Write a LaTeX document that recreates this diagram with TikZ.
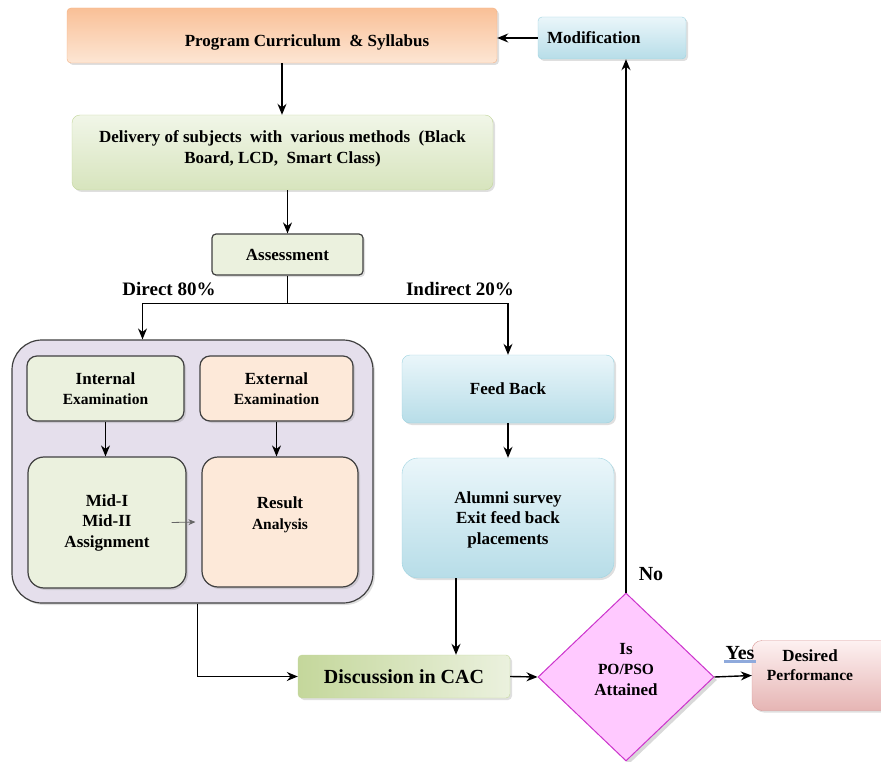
\documentclass[tikz,border=0pt]{standalone}
\usepackage{fontspec}
\setmainfont{Liberation Serif}
\usepackage{tikz}
\usetikzlibrary{arrows.meta,shapes.geometric,shadows}

\definecolor{progtop}{HTML}{F9C097}
\definecolor{progbot}{HTML}{FDE6D4}
\definecolor{progline}{HTML}{F4B183}
\definecolor{deltop}{HTML}{F1F6E8}
\definecolor{delbot}{HTML}{D7E4BD}
\definecolor{delline}{HTML}{C3D69B}
\definecolor{cacleft}{HTML}{C4D79B}
\definecolor{cacright}{HTML}{EBF1DE}
\definecolor{bluetop}{HTML}{EAF6FA}
\definecolor{bluebot}{HTML}{B7DDE8}
\definecolor{blueline}{HTML}{9DD3E0}
\definecolor{greenfill}{HTML}{EBF1DE}
\definecolor{peachfill}{HTML}{FDE9D9}
\definecolor{lavender}{HTML}{E5DFEC}
\definecolor{pinkfill}{HTML}{FFC9FF}
\definecolor{pinkline}{HTML}{CC33CC}
\definecolor{redtop}{HTML}{FDF1F1}
\definecolor{redbot}{HTML}{E6B5B4}
\definecolor{redline}{HTML}{D99694}
\definecolor{darkline}{HTML}{404040}
\definecolor{markblue}{HTML}{8FAADC}

\tikzset{
  box/.style={rectangle, rounded corners=4pt, inner sep=2pt, align=center,
    font=\fontsize{17}{20.5}\selectfont\bfseries,
    drop shadow={opacity=0.25, shadow xshift=2pt, shadow yshift=-2pt}},
  darkbox/.style={box, draw=darkline, line width=1.2pt, drop shadow={opacity=0}},
  arr/.style={-{Stealth[length=11pt,width=9pt]}, line width=1.4pt},
  lbl/.style={font=\fontsize{19}{22}\selectfont\bfseries}
}

\begin{document}
\begin{tikzpicture}[x=1pt,y=-1pt]
    \useasboundingbox (0,0) rectangle (881,762);

    % top boxes
    \node[box, draw=progline, top color=progtop, bottom color=progbot,
      minimum width=430pt, minimum height=55pt, text height=26pt, text depth=4pt] (prog) at (282,35.5)
      {\hspace*{50pt}Program Curriculum \ \& Syllabus};
    \node[box, draw=blueline, top color=bluetop, bottom color=bluebot,
      minimum height=42pt, text width=130pt, inner xsep=9pt, align=left] (modif) at (612,38)
      {Modification};
    \node[box, rounded corners=8pt, draw=delline, top color=deltop, bottom color=delbot,
      minimum width=421pt, minimum height=75pt] (deliv) at (282.5,152.5)
      {Delivery of subjects \ with \ various methods \ (Black\\Board, LCD, \ Smart Class)\\[-9.5pt]};
    \node[darkbox, fill=greenfill, minimum width=151pt, minimum height=41pt] (assess) at (287.5,254.5)
      {Assessment};

    % direct assessment
    \node[darkbox, rounded corners=30pt, fill=lavender, minimum width=361pt, minimum height=263pt]
      (direct) at (192.5,471.5) {};
    \node[darkbox, rounded corners=10pt, fill=greenfill, minimum width=157pt, minimum height=65pt]
      (internal) at (105.5,388.5) {Internal\\{\fontsize{15.5}{18}\selectfont Examination}};
    \node[darkbox, rounded corners=10pt, fill=peachfill, minimum width=153pt, minimum height=65pt]
      (external) at (276.5,388.5) {External\\{\fontsize{15.5}{18}\selectfont Examination}};
    \node[darkbox, rounded corners=16pt, fill=greenfill, minimum width=158pt, minimum height=131pt]
      (mid) at (107,522.5) {Mid-I\\Mid-II\\Assignment};
    \node[darkbox, rounded corners=16pt, fill=peachfill, minimum width=156pt, minimum height=130pt]
      (result) at (280,522) {Result\\{\fontsize{15.5}{18}\selectfont Analysis}\\[-2.5pt]};

    % indirect assessment
    \node[box, rounded corners=8pt, draw=blueline, top color=bluetop, bottom color=bluebot,
      minimum width=212pt, minimum height=68pt] (feedback) at (508,389) {Feed Back};
    \node[box, rounded corners=16pt, draw=blueline, top color=bluetop, bottom color=bluebot,
      minimum width=212pt, minimum height=120pt, text depth=0pt] (alumni) at (508,518)
      {Alumni survey\\Exit feed back\\placements};

    % bottom row
    \node[box, draw=delline, left color=cacleft, right color=cacright,
      minimum width=212pt, minimum height=43pt, font=\fontsize{20}{24}\selectfont\bfseries]
      (cac) at (404,676.5) {Discussion in CAC};
    \node[diamond, draw=pinkline, line width=1pt, fill=pinkfill, minimum width=176pt,
      minimum height=168pt, inner sep=0pt, align=center, font=\fontsize{17}{20.5}\selectfont\bfseries,
      drop shadow={opacity=0.3, shadow xshift=3pt, shadow yshift=-3pt}]
      (check) at (626,677) {Is\\{\fontsize{15.5}{18}\selectfont PO/PSO}\\Attained\\[-4.5pt]};
    \node[box, rounded corners=10pt, draw=redline, top color=redtop, bottom color=redbot,
      minimum width=140pt, minimum height=70pt] (desired) at (822,675.5) {};
    \node[inner sep=0pt, align=center, font=\fontsize{17}{19}\selectfont\bfseries]
      (desiredtext) at (810,665) {Desired\\{\fontsize{15.5}{18}\selectfont Performance}};

    % labels
    \node[lbl] (dlbl) at (169,289) {Direct 80\%};
    \node[lbl] (ilbl) at (460,289) {Indirect 20\%};
    \node[lbl, font=\fontsize{20}{24}\selectfont\bfseries] (nolbl) at (651,574) {No};
    \node[lbl, font=\fontsize{20}{24}\selectfont\bfseries, inner sep=1pt] (yeslbl) at (740,653) {Yes};
    \draw[line width=3pt, color=markblue] ([yshift=-1pt]yeslbl.south west) -- ([yshift=-1pt]yeslbl.south east);

    % draw arrows
    \draw[arr] (modif.west) -- (prog.east |- modif.west);
    \draw[arr] (prog.south) -- (deliv.north -| prog.south);
    \draw[arr] ([xshift=5pt]deliv.south) -- (assess.north);
    \draw[line width=1.2pt] (assess.south) -- ++(0,28) coordinate (split);
    \draw[arr, line width=1.2pt] (split) -| ([xshift=-50pt]direct.north);
    \draw[arr, line width=1.2pt] (split) -| (feedback.north);
    \draw[arr, line width=1.2pt] (internal.south) -- (internal.south |- mid.north);
    \draw[arr, line width=1.2pt] (external.south) -- (external.south |- result.north);
    \draw[-{Stealth[length=7pt,width=6pt]}, line width=0.8pt, darkline!80]
      ([xshift=-15pt]mid.east) -- ([xshift=-6pt]result.west);
    \draw[arr] (feedback.south) -- (alumni.north);
    \draw[arr] ([xshift=-52pt]alumni.south) -- ([xshift=-52pt]alumni.south |- cac.north);
    \draw[arr] ([xshift=5pt]direct.south) |- (cac.west);
    \draw[arr] (cac.east) -- (check.west);
    \draw[arr] (check.east) -- (desired.west);
    \draw[arr] (check.north) -- (check.north |- modif.south);
  \end{tikzpicture}
\end{document}
